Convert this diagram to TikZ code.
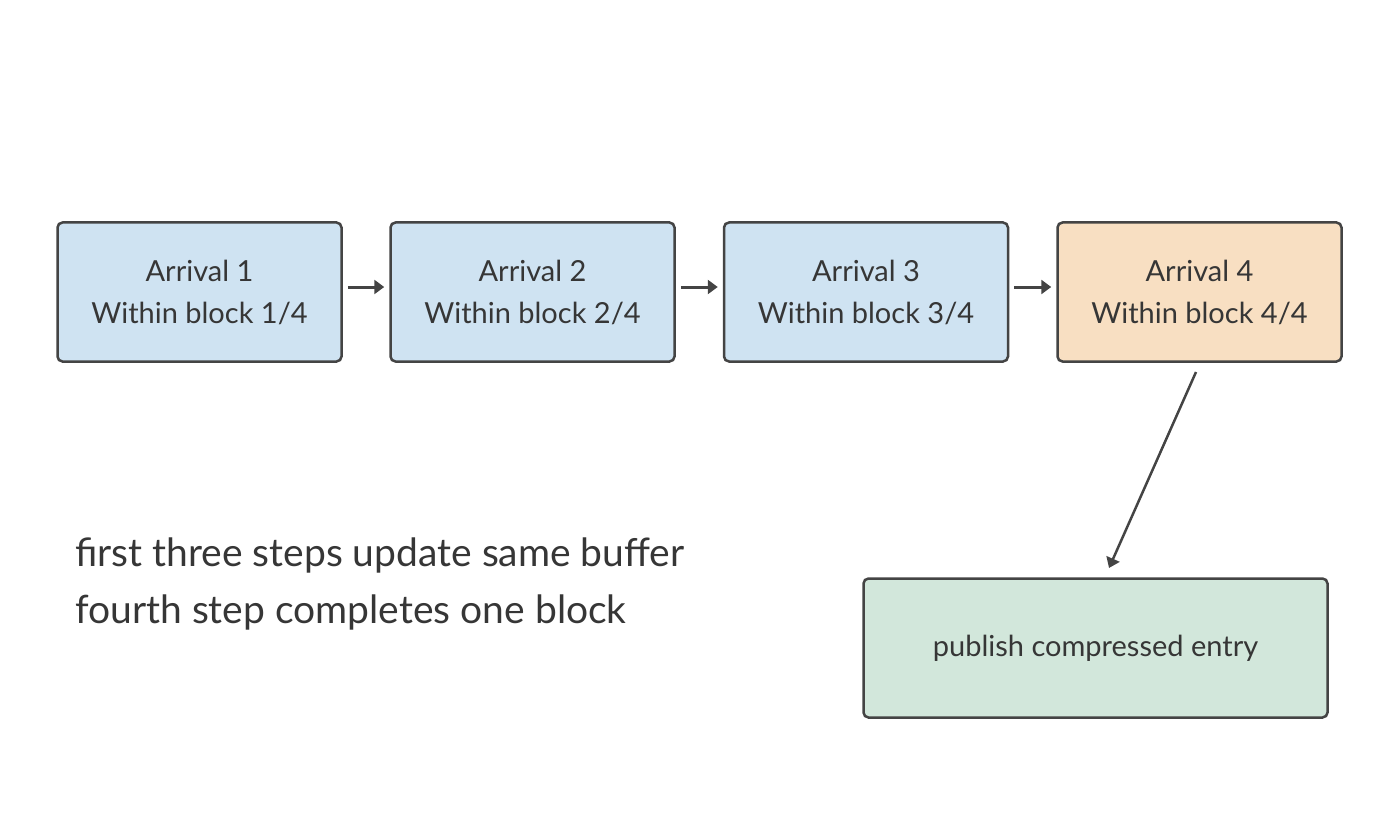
\documentclass[tikz,border=0pt]{standalone}
\usepackage{fontspec}
\setmainfont{Lato}
\usetikzlibrary{arrows.meta}
\definecolor{bl}{HTML}{CFE3F2}
\definecolor{orf}{HTML}{F8DFC2}
\definecolor{gr}{HTML}{D2E7DB}
\definecolor{ln}{HTML}{444444}
\begin{document}
\begin{tikzpicture}[x=1pt,y=-1pt,
  box/.style={draw=ln,line width=2.5pt,rounded corners=5pt,minimum width=284pt,minimum height=139pt,align=center,font=\fontsize{29}{42}\selectfont,text=ln!80!black,inner sep=0pt},
  arr/.style={draw=ln,line width=3pt,-{Triangle[length=10pt,width=14pt]}}]
\useasboundingbox (0,0) rectangle (1400,821);
\node[box,fill=bl] (a1) at (199.5,292) {Arrival 1\\Within block 1/4};
\node[box,fill=bl] (a2) at (532.5,292) {Arrival 2\\Within block 2/4};
\node[box,fill=bl] (a3) at (866,292) {Arrival 3\\Within block 3/4};
\node[box,fill=orf] (a4) at (1199.5,292) {Arrival 4\\Within block 4/4};
\node[box,fill=gr,minimum width=464pt] (p) at (1095.5,648) {publish compressed entry};
\draw[arr] ([xshift=5pt,yshift=5pt]a1.east) -- ([xshift=-5pt,yshift=5pt]a2.west);
\draw[arr] ([xshift=5pt,yshift=5pt]a2.east) -- ([xshift=-5pt,yshift=5pt]a3.west);
\draw[arr] ([xshift=5pt,yshift=5pt]a3.east) -- ([xshift=-5pt,yshift=5pt]a4.west);
\coordinate (s) at (1196,372);
\coordinate (e) at (1109,568);
\draw[arr,line width=2.5pt] (s) -- (e);
\node[anchor=west,align=left,font=\fontsize{39}{57}\selectfont,text=ln!80!black,inner sep=0pt] (t) at (75,584) {first three steps update same buffer\\fourth step completes one block};
\end{tikzpicture}
\end{document}
